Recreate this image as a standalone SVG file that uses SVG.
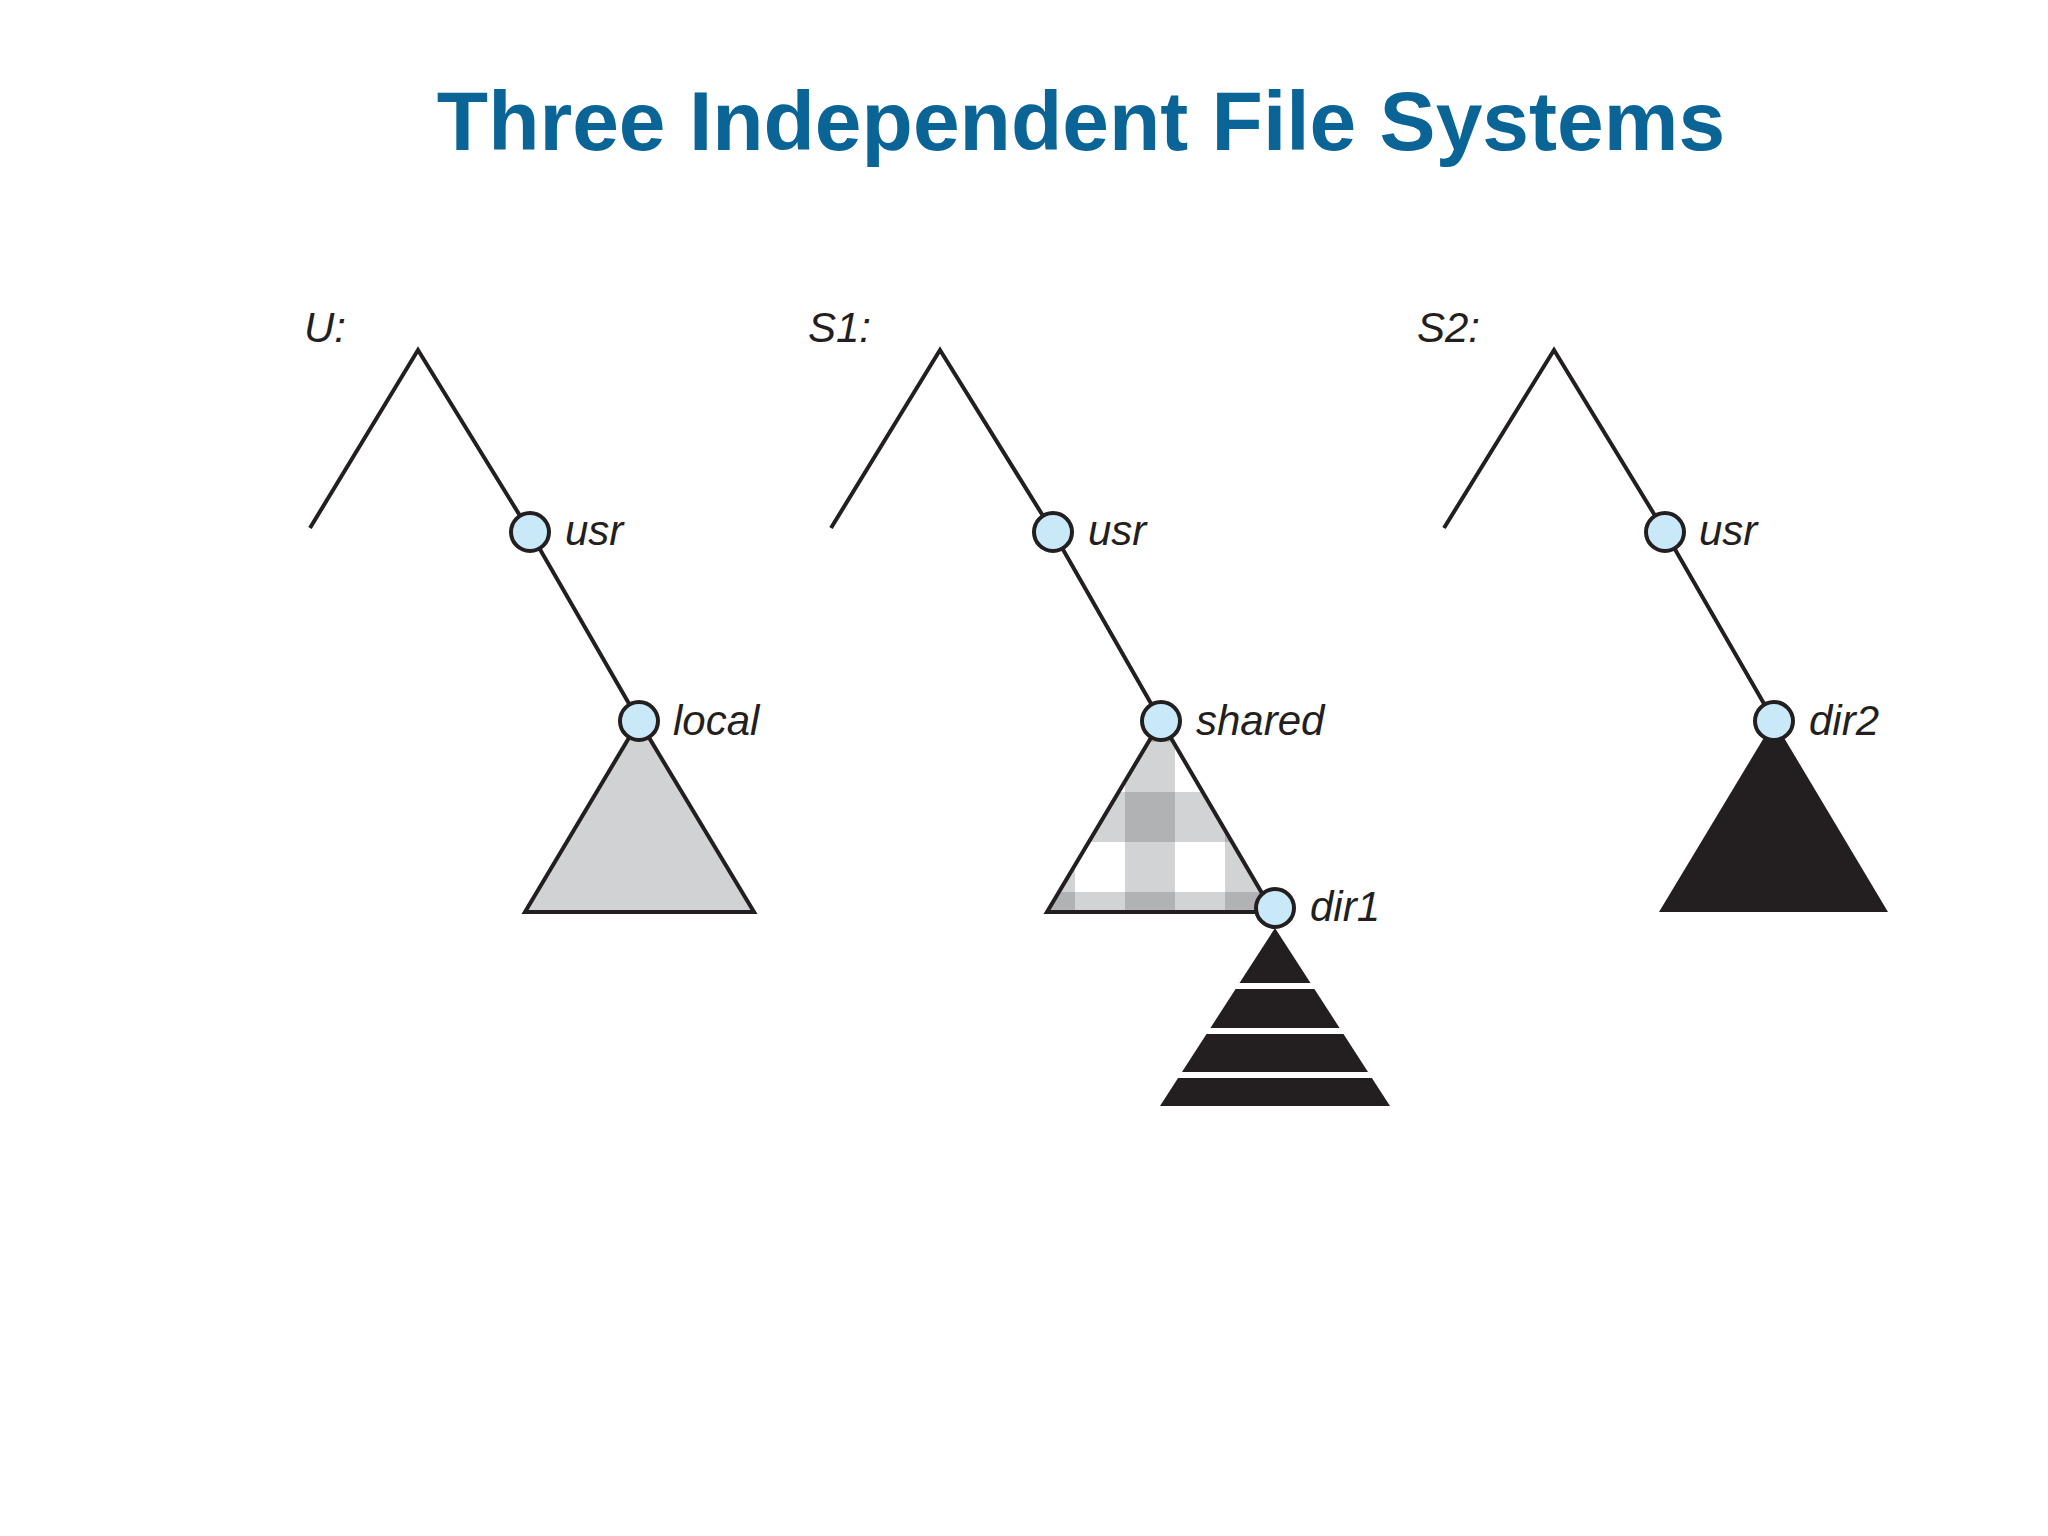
<svg xmlns="http://www.w3.org/2000/svg" width="2048" height="1536" viewBox="0 0 2048 1536">
<style>
.ln{stroke:#231f20;stroke-width:4;fill:none;stroke-linecap:butt}
.nd{fill:#c9e9f8;stroke:#231f20;stroke-width:4}
.lb{font-family:"Liberation Sans",Arial,sans-serif;font-style:italic;font-size:42px;fill:#231f20}
.title{font-family:"Liberation Sans",Arial,sans-serif;font-weight:bold;font-size:84px;fill:#0a6496}
</style>
<defs>
<pattern id="chk" patternUnits="userSpaceOnUse" x="1075" y="742" width="100" height="100">
<rect width="100" height="100" fill="#ffffff"/>
<rect x="50" y="0" width="50" height="50" fill="#d2d3d4"/>
<rect x="0" y="50" width="50" height="50" fill="#d2d3d4"/>
<rect x="50" y="50" width="50" height="50" fill="#b1b2b4"/>
</pattern>
</defs>
<rect width="2048" height="1536" fill="#fff"/>
<text class="title" x="1081" y="150" text-anchor="middle">Three Independent File Systems</text>
<g id="U">
<text class="lb" x="304" y="342">U:</text>
<polygon points="639,721 525,912 754,912" fill="#d0d2d3" stroke="#231f20" stroke-width="4"/>
</g>
<g id="S1">
<text class="lb" x="808" y="342">S1:</text>
<polygon points="1161,721 1047,912 1273,912" fill="url(#chk)" stroke="#231f20" stroke-width="4"/>
<polygon points="1275,928 1160,1106 1390,1106" fill="#231f20"/>
<g fill="#fff"><rect x="1150" y="983" width="250" height="6"/><rect x="1150" y="1028" width="250" height="6"/><rect x="1150" y="1072" width="250" height="6"/></g>
</g>
<g id="S2">
<text class="lb" x="1417" y="342">S2:</text>
<polygon points="1774,721 1659,912 1888,912" fill="#231f20"/>
</g>
<g id="connectors">
<polyline class="ln" points="310,528 418,350 530,532 639,721"/>
<polyline class="ln" points="831,528 940,350 1053,532 1161,721"/>
<polyline class="ln" points="1444,528 1554,350 1665,532 1774,721"/>
</g>
<g id="nodes">
<g id="U-usr"><circle class="nd" cx="530" cy="532" r="19"/><text class="lb" x="565" y="545">usr</text></g>
<g id="U-local"><circle class="nd" cx="639" cy="721" r="19"/><text class="lb" x="673" y="735">local</text></g>
<g id="S1-usr"><circle class="nd" cx="1053" cy="532" r="19"/><text class="lb" x="1088" y="545">usr</text></g>
<g id="S1-shared"><circle class="nd" cx="1161" cy="721" r="19"/><text class="lb" x="1196" y="735">shared</text></g>
<g id="S1-dir1"><circle class="nd" cx="1275" cy="908" r="19"/><text class="lb" x="1310" y="921">dir1</text></g>
<g id="S2-usr"><circle class="nd" cx="1665" cy="532" r="19"/><text class="lb" x="1699" y="545">usr</text></g>
<g id="S2-dir2"><circle class="nd" cx="1774" cy="721" r="19"/><text class="lb" x="1809" y="735">dir2</text></g>
</g>
</svg>
